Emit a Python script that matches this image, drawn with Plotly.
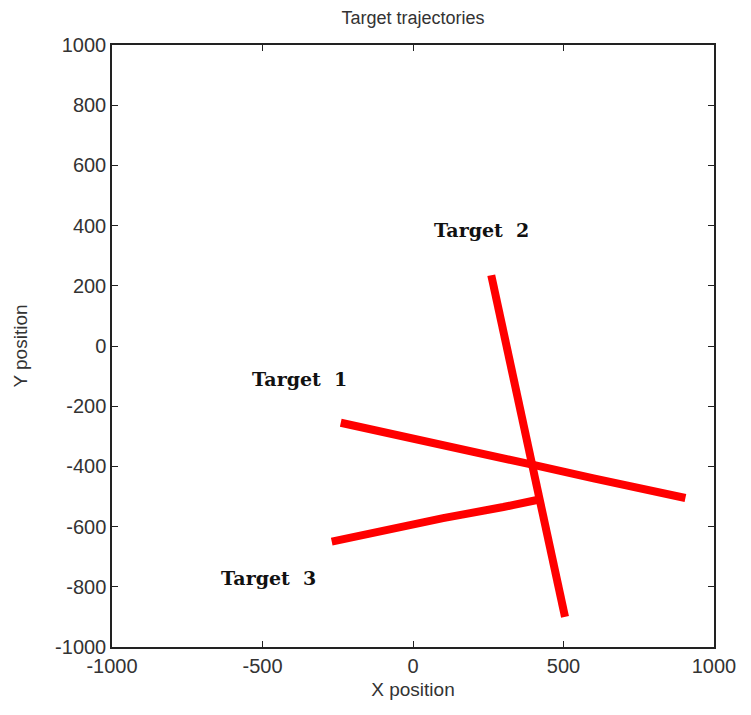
import plotly.graph_objects as go

# Trajectory points (data units)
t1_x = [-240, 0, 200, 400, 600, 905]
t1_y = [-255, -310, -352, -395, -440, -505]
t2_x = [260, 300, 350, 396, 450, 505]
t2_y = [235, 50, -170, -395, -640, -900]
t3_x = [-270, -100, 100, 300, 420]
t3_y = [-650, -612, -572, -535, -510]

label_text = ["Target 1", "Target 2", "Target 3"]
label_x = [-376, 229, -479]
label_y = [-109, 386, -770]

x_ticks = [-1000, -500, 0, 500, 1000]
y_ticks = [-1000, -800, -600, -400, -200, 0, 200, 400, 600, 800, 1000]

fig = go.Figure()
for xs, ys in [(t1_x, t1_y), (t2_x, t2_y), (t3_x, t3_y)]:
    fig.add_trace(go.Scatter(x=xs, y=ys, mode="lines",
                             line=dict(color="#ff0000", width=8),
                             showlegend=False, hoverinfo="skip"))

for t, x, y in zip(label_text, label_x, label_y):
    fig.add_annotation(x=x, y=y, text="<b>" + t.replace(" ", "&nbsp;&nbsp;") + "</b>", showarrow=False,
                       font=dict(family="DejaVu Serif", size=19, color="#111111"))

axis_common = dict(showline=True, linecolor="#222222", linewidth=1.5, mirror="ticks",
                   ticks="inside", ticklen=6, tickcolor="#222222", showgrid=False,
                   zeroline=False, automargin=False,
                   tickfont=dict(family="Liberation Sans", size=20, color="#333333"))

fig.update_xaxes(range=[-1000, 1000], tickvals=x_ticks, ticktext=[str(v) for v in x_ticks],
                 title=dict(text="X position", font=dict(family="Liberation Sans", size=19, color="#333333"), standoff=7),
                 **axis_common)
fig.update_yaxes(range=[-1000, 1000], tickvals=y_ticks, ticktext=[str(v) for v in y_ticks],
                 title=dict(text="Y position", font=dict(family="Liberation Sans", size=19, color="#333333"), standoff=22),
                 **axis_common)

fig.update_layout(width=735, height=699,
                  margin=dict(l=104, r=29, t=37, b=60),
                  paper_bgcolor="white", plot_bgcolor="white",
                  title=dict(text="Target trajectories", x=0.551, xanchor="center", y=0.986, yanchor="middle",
                             font=dict(family="Liberation Sans", size=18, color="#333333")))

fig.write_html("out.html")
